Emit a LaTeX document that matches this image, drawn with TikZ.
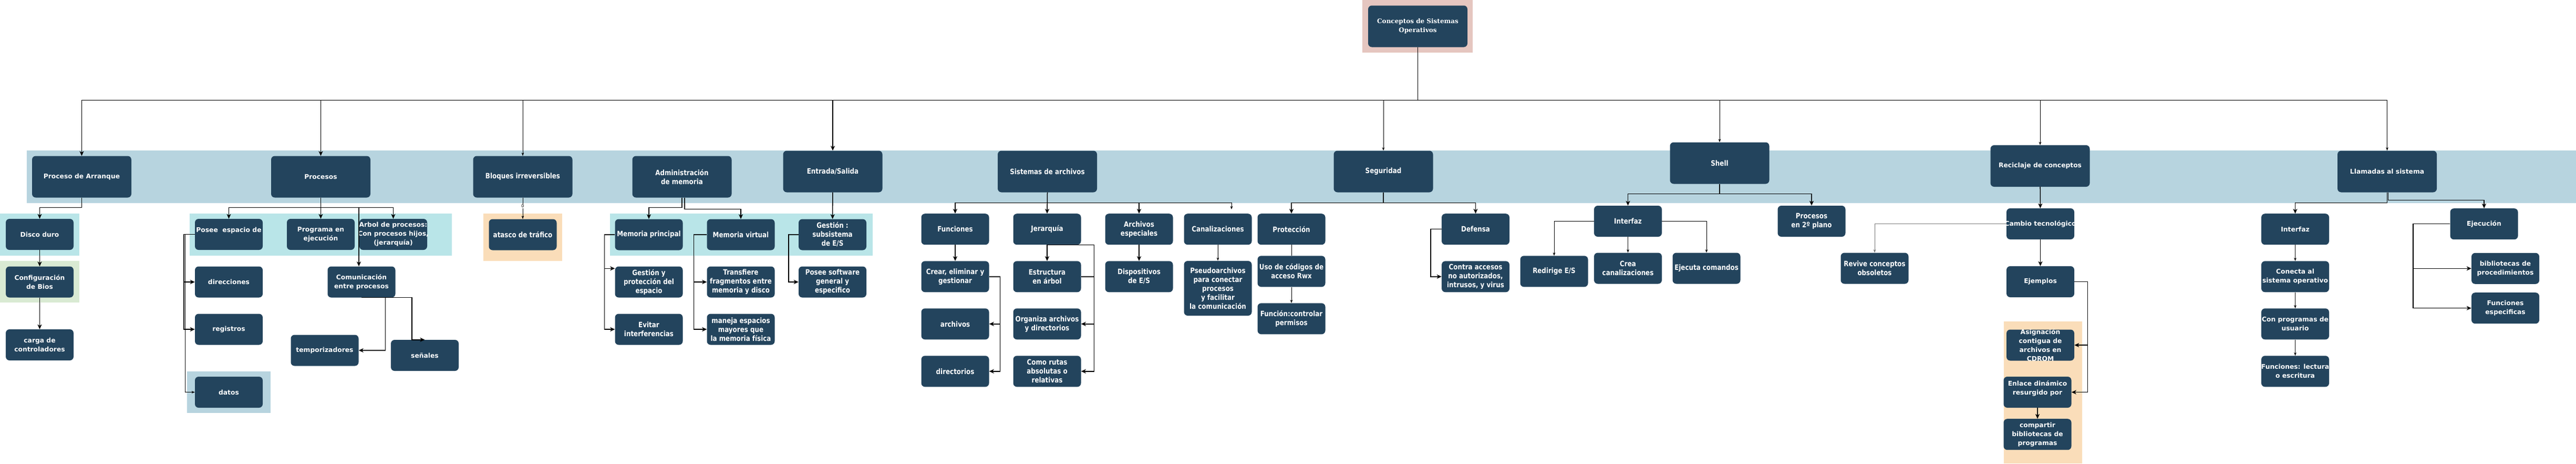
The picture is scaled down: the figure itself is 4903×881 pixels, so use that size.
\documentclass[tikz,border=0pt]{standalone}
\usepackage{fontspec}
\usetikzlibrary{arrows.meta}
\newfontfamily\vfont{DejaVu Sans}
\newfontfamily\cfont[FakeStretch=0.85]{DejaVu Sans}
\newfontfamily\rfont{DejaVu Serif}
\definecolor{navy}{HTML}{23445D}
\definecolor{bandc}{HTML}{B7D4DF}
\definecolor{cyanc}{HTML}{B9E5E8}
\definecolor{greenc}{HTML}{D9EAD3}
\definecolor{orangec}{HTML}{FADDB9}
\definecolor{pinkc}{HTML}{E5C6C0}
\definecolor{grayl}{HTML}{777777}
\newcommand\mybox[5]{\node[#1] (#3) at (#4) {};\node[#2, text=white, align=center, inner sep=0pt] at (#3.center) {#5};}
\begin{document}
\begin{tikzpicture}[x=1pt,y=-1pt,
  bxs/.style={rectangle, rounded corners=7pt, fill=navy, minimum width=129pt, minimum height=59pt, inner sep=0pt},
  bxh/.style={bxs, minimum width=189pt, minimum height=79pt},
  V/.style={font=\vfont\bfseries\fontsize{12.3pt}{17pt}\selectfont},
  C/.style={font=\cfont\bfseries\fontsize{14pt}{17pt}\selectfont},
  R/.style={font=\rfont\bfseries\fontsize{12pt}{17pt}\selectfont},
  ar/.style={draw=black, line width=1.5pt, -{Stealth[length=9pt,width=8pt,inset=2.5pt]}},
  art/.style={draw=black, line width=0.9pt, -{Stealth[length=6pt,width=4.5pt,inset=1.5pt]}},
  ln/.style={draw=black, line width=0.9pt}
]
\useasboundingbox (0,0) rectangle (4903,881);
\fill[white] (0,0) rectangle (4903,881);
% backgrounds
\fill[pinkc] (2593,0) rectangle (2803,100);
\fill[bandc] (51,286) rectangle (4903,386);
\fill[cyanc] (0,406) rectangle (151,486);
\fill[greenc] (0,496) rectangle (151,575);
\fill[cyanc] (361,406) rectangle (860,486);
\fill[bandc] (356,706) rectangle (515,785);
\fill[orangec] (920,406) rectangle (1070,496);
\fill[cyanc] (1160.6,406) rectangle (1660.6,486);
\fill[orangec] (3813.5,610.5) rectangle (3963,881);

% root
\mybox{bxh}{R}{root}{2698.5,50}{Conceptos de Sistemas\\Operativos}
% headers
\mybox{bxh}{V}{arr}{155.5,336}{Proceso de Arranque}
\mybox{bxh}{V}{proc}{610.5,336}{Procesos}
\mybox{bxh}{C}{bloq}{995,336}{Bloques irreversibles}
\mybox{bxh}{C}{adm}{1298,336}{Administración\\de memoria}
\mybox{bxh}{C}{es}{1585,326}{Entrada/Salida}
\mybox{bxh}{C}{sa}{1993.5,326}{Sistemas de archivos}
\mybox{bxh}{C}{seg}{2633,326}{Seguridad}
\mybox{bxh}{C}{shell}{3273,310}{Shell}
\mybox{bxh}{V}{rec}{3883,315.5}{Reciclaje de conceptos}
\mybox{bxh}{V}{llam}{4543.5,326}{Llamadas al sistema}
% arranque
\mybox{bxs}{V}{disco}{75.5,445.5}{Disco duro}
\mybox{bxs}{V}{bios}{75.5,536}{Configuración\\de Bios}
\mybox{bxs}{V}{carga}{75.5,655.5}{carga de\\controladores}
% procesos
\mybox{bxs}{V,yshift=7pt}{posee}{435.5,445.5}{Posee\ \ espacio de}
\mybox{bxs}{V}{prog}{610.5,445.5}{Programa en\\ejecución}
\mybox{bxs}{V}{arbol}{748.5,445.5}{Arbol de procesos:\\Con procesos hijos,\\(jerarquía)}
\mybox{bxs}{V}{dir}{435.5,536}{direcciones}
\mybox{bxs}{V}{reg}{435.5,626}{registros}
\mybox{bxs}{V}{datos}{435.5,745.5}{datos}
\mybox{bxs}{V}{com}{688,536}{Comunicación\\entre procesos}
\mybox{bxs}{V}{temp}{618,666}{temporizadores}
\mybox{bxs}{V}{sen}{808.5,675.5}{señales}
% bloques
\mybox{bxs}{C}{atasco}{995,446}{atasco de tráfico}
% memoria
\mybox{bxs}{C}{mp}{1235,446}{Memoria principal}
\mybox{bxs}{C}{mv}{1410,446}{Memoria virtual}
\mybox{bxs}{C}{gyp}{1235,536}{Gestión y\\protección del\\espacio}
\mybox{bxs}{C}{evit}{1235,626}{Evitar\\interferencias}
\mybox{bxs}{C}{transf}{1410,536}{Transfiere\\fragmentos entre\\memoria y disco}
\mybox{bxs}{C}{maneja}{1410,626}{maneja espacios\\mayores que\\la memoria física}
% E/S
\mybox{bxs}{C}{gest}{1584.5,446}{Gestión :\\subsistema\\de E/S}
\mybox{bxs}{C}{psoft}{1584.5,536}{Posee software\\general y\\especifico}
% sistemas de archivos
\mybox{bxs}{C}{func}{1818,435.7}{Funciones}
\mybox{bxs}{C}{jer}{1993,435.7}{Jerarquía}
\mybox{bxs}{C}{aesp}{2168,435.7}{Archivos\\especiales}
\mybox{bxs}{C}{canal}{2318,435.7}{Canalizaciones}
\mybox{bxs}{C}{crear}{1818,525.8}{Crear, eliminar y\\gestionar}
\mybox{bxs}{C}{estr}{1993,525.8}{Estructura\\en árbol}
\mybox{bxs}{C}{disp}{2168,525.8}{Dispositivos\\de E/S}
\mybox{bxs,minimum height=104pt}{C}{pseudo}{2318,548}{Pseudoarchivos\\para conectar\\procesos\\y facilitar\\la comunicación}
\mybox{bxs}{C}{archs}{1818,615.8}{archivos}
\mybox{bxs}{C}{org}{1993,615.8}{Organiza archivos\\y directorios}
\mybox{bxs}{C}{dirs}{1818,705.8}{directorios}
\mybox{bxs}{C}{rutas}{1993,705.8}{Como rutas\\absolutas o\\relativas}
% seguridad
\mybox{bxs}{C}{prot}{2458,435.7}{Protección}
\mybox{bxs}{C}{uso}{2458,515.8}{Uso de códigos de\\acceso Rwx}
\mybox{bxs}{C}{funcc}{2458,605.8}{Función:controlar\\permisos}
\mybox{bxs}{C}{def}{2808.5,435.7}{Defensa}
\mybox{bxs}{C}{contra}{2808.5,525.8}{Contra accesos\\no autorizados,\\intrusos, y virus}
% shell
\mybox{bxs}{C}{redir}{2958,515.8}{Redirige E/S}
\mybox{bxs}{C}{intf}{3098.5,420.5}{Interfaz}
\mybox{bxs}{C}{crea}{3098.5,510}{Crea\\canalizaciones}
\mybox{bxs}{C}{ejec}{3248,510}{Ejecuta comandos}
\mybox{bxs}{C}{ptwo}{3448,420.5}{Procesos\\en 2º plano}
% reciclaje
\mybox{bxs}{C}{revive}{3568,510}{Revive conceptos\\obsoletos}
\mybox{bxs}{V}{cambio}{3883.5,425.5}{Cambio tecnológico}
\mybox{bxs}{V}{ejem}{3883.5,535.5}{Ejemplos}
\mybox{bxs}{V}{asig}{3883.5,656}{Asignación\\contigua de\\archivos en\\CDROM}
\mybox{bxs}{V,yshift=7pt}{enl}{3878,745.5}{Enlace dinámico\\resurgido por}
\mybox{bxs}{V}{comp}{3878,825.7}{compartir\\bibliotecas de\\programas}
% llamadas
\mybox{bxs}{V}{lintf}{4368.5,435.7}{Interfaz}
\mybox{bxs}{V}{conecta}{4368.5,525.8}{Conecta al\\sistema operativo}
\mybox{bxs}{V}{conprog}{4368.5,615.8}{Con programas de\\usuario}
\mybox{bxs}{V}{flect}{4368.5,705.8}{Funciones: lectura\\o escritura}
\mybox{bxs}{V}{ejecu}{4728,425.7}{Ejecución}
\mybox{bxs}{V}{bibl}{4768.5,510.3}{bibliotecas de\\procedimientos}
\mybox{bxs}{V}{fesp}{4768.5,585.7}{Funciones\\especificas}

% level 1
\draw[ar] (root.south) -- ++(0,101) -| (arr.north);
\draw[ar] (root.south) -- ++(0,101) -| (proc.north);
\draw[art] (root.south) -- ++(0,101) -| (bloq.north);
\draw[ar] (root.south) -- ++(0,101) -| (es.north);
\draw[art] (root.south) -- ++(0,101) -| (seg.north);
\draw[art] (root.south) -- ++(0,101) -| (shell.north);
\draw[art] (root.south) -- ++(0,101) -| (rec.north);
\draw[art] (root.south) -- ++(0,101) -| (llam.north);
% arranque
\draw[ar] (arr.south) -- ++(0,19) -| (disco.north);
\draw[ar] (disco) -- (bios);
\draw[ar] (bios) -- (carga);
% procesos
\draw[ar] (proc.south) -- ++(0,19) -| (posee.north);
\draw[ar] (proc.south) -- (prog.north);
\draw[ar] (proc.south) -- ++(0,19) -| (arbol.north);
\draw[ar] (proc.south) -- ++(0,19) -| ([xshift=-5pt]com.north);
\draw[ar] (posee.west) -- ++(-21,0) |- (dir.west);
\draw[ar] (posee.west) -- ++(-21,0) |- (reg.west);
\draw[art] (posee.west) -- ++(-18,0) |- (datos.west);
\draw[ar] (com.south) -| ([xshift=51pt]temp.east) -- (temp.east);
\draw[ar] (com.south) -| ([xshift=-24.5pt]sen.north) -- (sen.north);
% bloques
\draw[art] (bloq.south) -- node[pos=0.4, fill=white, inner sep=1pt, text=black, font=\vfont\fontsize{8pt}{9pt}\selectfont] {0} (atasco.north);
% memoria
\draw[ar] (adm.south) -- ++(0,19) -| (mp.north);
\draw[ar] ([xshift=5pt]adm.south) -- ++(0,22) -| (mv.north);
\draw[ar] (mp.west) -- ++(-20,0) |- ([yshift=-4pt]gyp.north west);
\draw[ar] (mp.west) -- ++(-20,0) |- (evit.west);
\draw[ar] (mv.west) -- ++(-25,0) |- (transf.west);
\draw[ar] (mv.west) -- ++(-25,0) |- (maneja.west);
\draw[ar] (es) -- (gest);
\draw[ar] (gest.west) -- ++(-19,0) |- (psoft.west);
% sistemas de archivos
\draw[ar] (sa.south) -- ++(0,20) -| (func.north);
\draw[ar] (sa.south) -- (jer.north);
\draw[ar] (sa.south) -- ++(0,20) -| (aesp.north);
\draw[art] (sa.south) -- ++(0,20) -| ([xshift=26pt,yshift=8pt]canal.north);
\draw[ar] (func) -- (crear);
\draw[ar] (crear.east) -- ++(20.6,0) |- (archs.east);
\draw[ar] (crear.east) -- ++(20.6,0) |- (dirs.east);
\draw[ar] (jer) -- (estr);
\draw[ar] (jer.south) -| ([xshift=25pt]org.east) -- (org.east);
\draw[ar] (jer.south) -| ([xshift=25pt]rutas.east) -- (rutas.east);
\draw[line width=1.5pt] (estr.east) -- ++(25,0);
\draw[ar] (aesp) -- (disp);
\draw[art] (canal) -- (pseudo);
% seguridad
\draw[ar] (seg.south) -- ++(0,20) -| (prot.north);
\draw[ar] (seg.south) -- ++(0,20) -| (def.north);
\draw[ln] (prot) -- (uso);
\draw[art] (uso) -- (funcc);
\draw[ar] (def.west) -- ++(-21,0) |- (contra.west);
% shell
\draw[ar] (shell.south) -- ++(0,19) -| (intf.north);
\draw[ar] (shell.south) -- ++(0,19) -| (ptwo.north);
\draw[art] (intf.west) -| (redir.north);
\draw[art] (intf) -- (crea);
\draw[art] (intf.east) -| (ejec.north);
% reciclaje
\draw[ar] (rec) -- (cambio);
\draw[ar] (cambio) -- (ejem);
\draw[art, draw=grayl] (cambio.west) -| (revive.north);
\draw[ar] (ejem.east) -- ++(25,0) |- (asig.east);
\draw[ar] (ejem.east) -- ++(25,0) |- (enl.east);
\draw[ar] (enl) -- (comp);
% llamadas
\draw[ar] (llam.south) -- ++(0,20) -| (lintf.north);
\draw[ar] ([xshift=2pt]llam.south) -- ++(0,15) -| (ejecu.north);
\draw[art] (lintf) -- (conecta);
\draw[art] (conecta) -- (conprog);
\draw[art] (conprog) -- (flect);
\draw[ar] (ejecu.west) -- ++(-70.5,0) |- (bibl.west);
\draw[ar] (ejecu.west) -- ++(-70.5,0) |- (fesp.west);
\end{tikzpicture}
\end{document}
